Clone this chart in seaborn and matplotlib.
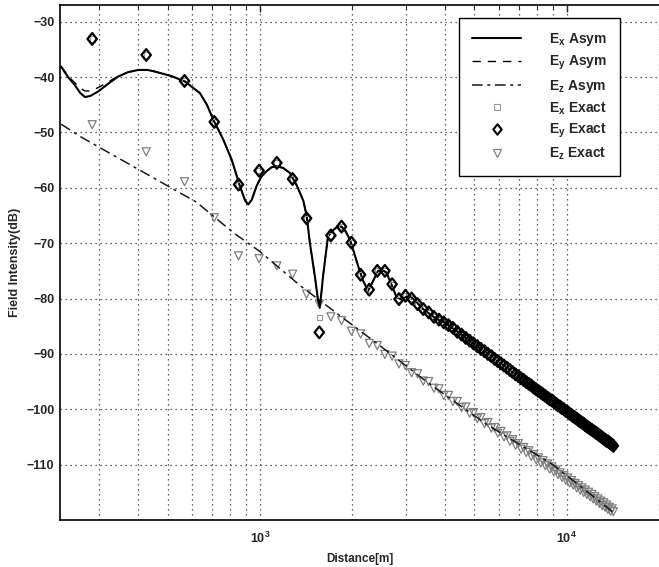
import numpy as np
import pandas as pd
import matplotlib
matplotlib.use("Agg")
import matplotlib.pyplot as plt
import seaborn as sns
from matplotlib.lines import Line2D
from matplotlib.path import Path
from matplotlib.ticker import LogLocator, NullFormatter, FixedLocator

# ---------------- data ----------------
# asymptotic curves
dist_asym_xy = [225, 237, 249, 260, 269, 280, 297, 320, 345, 372, 402, 430, 455, 514, 570,
                638, 672, 705, 760, 809, 861, 895, 916, 940, 975, 1010, 1051, 1090, 1133,
                1190, 1252, 1320, 1385, 1420, 1455, 1511, 1545, 1567, 1590, 1607, 1667, 1720,
                1780, 1845, 1900, 1965, 2030, 2090, 2170, 2254, 2330, 2428, 2510, 2587, 2690,
                2788, 2900, 3000, 3083, 3200, 3406, 3764, 4000, 5000, 6000, 8000, 10000,
                12000, 14200]
ex_asym = [-38.1, -40.0, -41.4, -42.9, -43.6, -43.4, -42.6, -41.2, -39.9, -39.1, -38.7, -38.7,
           -39.0, -39.8, -40.8, -42.9, -45.0, -47.7, -51.3, -54.9, -59.7, -62.3, -63.0, -62.2,
           -59.7, -58.0, -57.0, -56.3, -56.1, -56.4, -57.3, -59.6, -62.3, -65.0, -69.9, -76.0,
           -80.0, -81.5, -78.5, -75.9, -68.8, -67.8, -67.1, -67.0, -67.8, -69.3, -71.8, -74.1,
           -76.8, -78.6, -77.0, -75.0, -74.9, -75.3, -77.6, -79.7, -80.2, -79.7, -79.5, -80.3,
           -81.9, -83.7, -84.3, -88.2, -91.4, -96.5, -100.4, -103.6, -106.6]
ey_asym = [-38.1, -39.8, -41.0, -42.0, -42.5, -42.5, -41.9, -40.9, -39.8, -39.1, -38.7, -38.7,
           -39.0, -39.8, -40.8, -42.9, -45.0, -47.7, -51.3, -54.9, -59.7, -62.3, -63.0, -62.2,
           -59.7, -58.0, -57.0, -56.3, -56.1, -56.4, -57.3, -59.6, -62.3, -65.0, -69.9, -76.0,
           -80.3, -82.0, -78.5, -75.9, -68.8, -67.8, -67.1, -67.0, -67.8, -69.3, -71.8, -74.1,
           -76.8, -78.6, -77.0, -75.0, -74.9, -75.3, -77.6, -79.7, -80.2, -79.7, -79.5, -80.3,
           -81.9, -83.7, -84.3, -88.2, -91.4, -96.5, -100.4, -103.6, -106.6]
dist_asym_z = [225, 259, 622, 819, 1000, 1349, 1824, 2460, 3491, 5470, 9016, 14190]
ez_asym = [-48.5, -50.7, -62.6, -68.1, -71.5, -77.6, -83.1, -88.5, -95.0, -102.7, -110.0, -118.6]

# exact (sampled) values
dist_exact = [284, 426, 568, 710, 852, 994, 1136, 1278, 1420, 1562, 1704, 1846, 1988, 2130,
              2272, 2414, 2556, 2698, 2840, 2982, 3124, 3266, 3408, 3550, 3692, 3834, 3976,
              4118, 4260, 4402, 4544, 4686, 4828, 4970, 5112, 5254, 5396, 5538, 5680, 5822,
              5964, 6106, 6248, 6390, 6532, 6674, 6816, 6958, 7100, 7242, 7384, 7526, 7668,
              7810, 7952, 8094, 8236, 8378, 8520, 8662, 8804, 8946, 9088, 9230, 9372, 9514,
              9656, 9798, 9940, 10082, 10224, 10366, 10508, 10650, 10792, 10934, 11076, 11218,
              11360, 11502, 11644, 11786, 11928, 12070, 12212, 12354, 12496, 12638, 12780,
              12922, 13064, 13206, 13348, 13490, 13632, 13774, 13916, 14058, 14200]
ey_exact = [-33.1, -36.0, -40.7, -48.1, -59.4, -56.9, -55.5, -58.4, -65.5, -86.1, -68.6, -67.0,
            -69.9, -75.7, -78.4, -75.0, -75.0, -77.4, -80.1, -79.5, -80.0, -81.0, -81.9, -82.5,
            -83.3, -83.8, -84.3, -84.8, -85.3, -86.0, -86.5, -87.1, -87.6, -88.1, -88.6, -89.1,
            -89.5, -90.0, -90.4, -90.9, -91.3, -91.7, -92.1, -92.5, -92.9, -93.3, -93.7, -94.0,
            -94.4, -94.7, -95.1, -95.4, -95.7, -96.1, -96.4, -96.7, -97.0, -97.3, -97.6, -97.9,
            -98.2, -98.4, -98.7, -99.0, -99.3, -99.5, -99.8, -100.0, -100.3, -100.5, -100.8,
            -101.0, -101.3, -101.5, -101.7, -102.0, -102.2, -102.4, -102.6, -102.9, -103.1,
            -103.3, -103.5, -103.7, -103.9, -104.1, -104.3, -104.5, -104.7, -104.9, -105.1,
            -105.3, -105.5, -105.7, -105.8, -106.0, -106.2, -106.4, -106.6]
ex_exact = [-33.1, -36.0, -40.7, -48.1, -59.4, -56.9, -55.5, -58.4, -65.5, -83.4, -68.6, -67.0,
            -69.9, -75.7, -78.4, -75.0, -75.0, -77.4, -80.1, -79.5, -80.0, -81.0, -81.9, -82.5,
            -83.3, -83.8, -84.3, -84.8, -85.3, -86.0, -86.5, -87.1, -87.6, -88.1, -88.6, -89.1,
            -89.5, -90.0, -90.4, -90.9, -91.3, -91.7, -92.1, -92.5, -92.9, -93.3, -93.7, -94.0,
            -94.4, -94.7, -95.1, -95.4, -95.7, -96.1, -96.4, -96.7, -97.0, -97.3, -97.6, -97.9,
            -98.2, -98.4, -98.7, -99.0, -99.3, -99.5, -99.8, -100.0, -100.3, -100.5, -100.8,
            -101.0, -101.3, -101.5, -101.7, -102.0, -102.2, -102.4, -102.6, -102.9, -103.1,
            -103.3, -103.5, -103.7, -103.9, -104.1, -104.3, -104.5, -104.7, -104.9, -105.1,
            -105.3, -105.5, -105.7, -105.8, -106.0, -106.2, -106.4, -106.6]
ez_exact = [-48.6, -53.5, -58.9, -65.4, -72.3, -72.8, -74.1, -75.6, -79.2, -81.0, -83.3, -84.0,
            -85.9, -86.4, -88.1, -88.5, -90.1, -90.4, -91.8, -92.1, -93.4, -93.6, -94.9, -95.0,
            -96.2, -96.3, -97.5, -97.5, -98.6, -98.6, -99.7, -99.6, -100.7, -100.6, -101.7,
            -101.5, -102.6, -102.4, -103.4, -103.3, -104.3, -104.0, -105.0, -104.8, -105.8,
            -105.5, -106.5, -106.2, -107.2, -106.9, -107.8, -107.5, -108.5, -108.2, -109.1,
            -108.8, -109.7, -109.3, -110.2, -109.9, -110.8, -110.4, -111.3, -111.0, -111.8,
            -111.5, -112.3, -112.0, -112.8, -112.4, -113.3, -112.9, -113.7, -113.4, -114.2,
            -113.8, -114.6, -114.2, -115.0, -114.6, -115.4, -115.0, -115.8, -115.4, -116.2,
            -115.8, -116.6, -116.2, -117.0, -116.6, -117.4, -116.9, -117.7, -117.3, -118.1,
            -117.7, -118.4, -118.0, -118.5]

legend_labels = [r"E$_\mathbf{x}$ Asym", r"E$_\mathbf{y}$ Asym", r"E$_\mathbf{z}$ Asym",
                 r"E$_\mathbf{x}$ Exact", r"E$_\mathbf{y}$ Exact", r"E$_\mathbf{z}$ Exact"]
y_ticks = [-30, -40, -50, -60, -70, -80, -90, -100, -110]

# ---------------- styling ----------------
sns.set_style("white")
plt.rcParams["font.family"] = ["Liberation Sans", "DejaVu Sans"]
plt.rcParams["font.weight"] = "bold"
plt.rcParams["mathtext.fontset"] = "custom"
plt.rcParams["mathtext.rm"] = "Liberation Sans:bold"
plt.rcParams["mathtext.it"] = "Liberation Sans:bold"
plt.rcParams["mathtext.bf"] = "Liberation Sans:bold"
plt.rcParams["axes.unicode_minus"] = True

# slightly tall open diamond, as in the reference
diamond = Path([(0, 1), (0.8, 0), (0, -1), (-0.8, 0), (0, 1)],
               [Path.MOVETO, Path.LINETO, Path.LINETO, Path.LINETO, Path.CLOSEPOLY])

fig = plt.figure(figsize=(6.59, 5.67), dpi=100)
ax = fig.add_axes([0.0910, 0.0829, 0.909, 0.908])
ax.set_xscale("log")

df_ez = pd.DataFrame({"r": dist_exact, "v": ez_exact})
df_ex = pd.DataFrame({"r": dist_exact, "v": ex_exact})
df_ey = pd.DataFrame({"r": dist_exact, "v": ey_exact})

sns.scatterplot(data=df_ez, x="r", y="v", ax=ax, marker="v", s=34, facecolor="none",
                edgecolor="0.5", linewidth=0.9, zorder=3, legend=False)
sns.lineplot(x=dist_asym_z, y=ez_asym, ax=ax, color="0.1", lw=1.1, linestyle=(0, (7, 3, 2, 3)),
             estimator=None, sort=False, zorder=4)
sns.lineplot(x=dist_asym_xy, y=ey_asym, ax=ax, color="k", lw=1.0, linestyle=(0, (6, 5)),
             estimator=None, sort=False, zorder=4)
sns.lineplot(x=dist_asym_xy, y=ex_asym, ax=ax, color="k", lw=1.5, linestyle="-",
             estimator=None, sort=False, zorder=5)
sns.scatterplot(data=df_ex, x="r", y="v", ax=ax, marker="s", s=14, facecolor="none",
                edgecolor="0.6", linewidth=0.8, zorder=6, legend=False)
sns.scatterplot(data=df_ey, x="r", y="v", ax=ax, marker=diamond, s=72, facecolor="none",
                edgecolor="k", linewidth=1.6, zorder=7, legend=False)

ax.set_xlim(223, 20000)
ax.set_ylim(-120, -27)
ax.set_yticks(y_ticks)
ax.xaxis.set_major_locator(FixedLocator([1e3, 1e4]))
ax.xaxis.set_minor_locator(LogLocator(base=10, subs=np.arange(2, 10)))
ax.xaxis.set_minor_formatter(NullFormatter())

grid_ls = (0, (1, 3))
ax.grid(True, which="major", axis="both", linestyle=grid_ls, color="0.2", linewidth=0.9)
ax.grid(True, which="minor", axis="x", linestyle=grid_ls, color="0.2", linewidth=0.9)
ax.tick_params(axis="both", which="major", direction="in", length=5, width=1,
               labelsize=9, top=True, right=False)
ax.tick_params(axis="x", which="major", pad=8)
ax.tick_params(axis="y", which="major", pad=4)
ax.tick_params(axis="x", which="minor", direction="in", length=3, width=0.8, top=True)
for lab in ax.get_xticklabels() + ax.get_yticklabels():
    lab.set_fontweight("bold")

for s in ["left", "bottom", "top"]:
    ax.spines[s].set_color("k")
    ax.spines[s].set_linewidth(1.2)
ax.spines["right"].set_visible(False)

ax.set_xlabel("Distance[m]", fontsize=8.5, fontweight="bold", labelpad=5)
ax.set_ylabel("Field Intensity(dB)", fontsize=9, fontweight="bold", labelpad=4)

handles = [
    Line2D([], [], color="k", lw=1.5, ls="-"),
    Line2D([], [], color="k", lw=1.0, ls=(0, (6, 5))),
    Line2D([], [], color="0.1", lw=1.1, ls=(0, (7, 3, 2, 3))),
    Line2D([], [], color="0.6", lw=0, marker="s", mfc="none", mec="0.6", ms=4, mew=0.8),
    Line2D([], [], color="k", lw=0, marker=diamond, mfc="none", mec="k", ms=7.5, mew=1.5),
    Line2D([], [], color="0.5", lw=0, marker="v", mfc="none", mec="0.5", ms=5.5, mew=0.9),
]
leg = ax.legend(handles, legend_labels, loc="upper right", bbox_to_anchor=(0.935, 0.975),
                borderaxespad=0, handlelength=3.5, handletextpad=2.0,
                labelspacing=0.4, borderpad=0.95, fancybox=False, framealpha=1,
                edgecolor="k", prop={"weight": "bold", "size": 10})
leg.get_frame().set_linewidth(1.0)

fig.savefig("out.png", dpi=100)
